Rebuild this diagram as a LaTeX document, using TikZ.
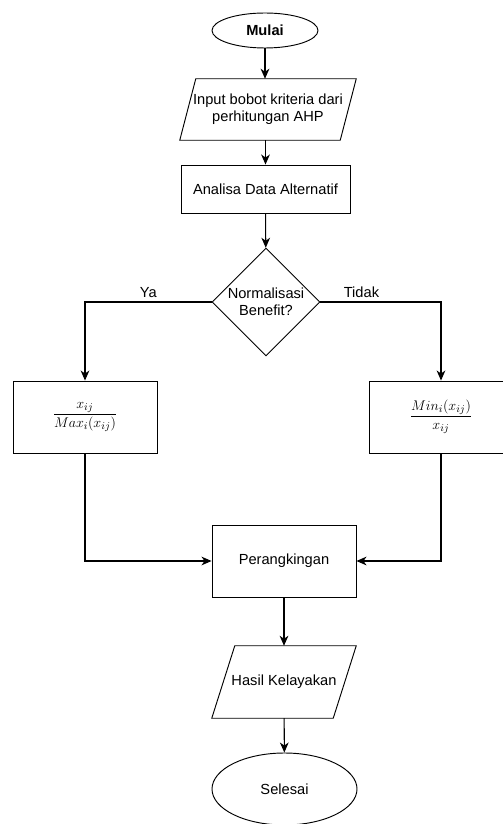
\documentclass[tikz,border=0pt]{standalone}
\usepackage{amsmath,amssymb}
\usepackage{fontspec}
\setmainfont{Liberation Sans}
\usetikzlibrary{shapes.geometric,arrows.meta,positioning,calc}
\tikzstyle{terminal} = [ellipse, draw, line width=0.8pt, inner sep=0pt, font=\fontsize{12.5}{15}\selectfont]
\tikzstyle{iobox} = [rectangle, draw=none, inner sep=0pt, align=center, font=\fontsize{12.5}{14.5}\selectfont]
\tikzstyle{block} = [rectangle, draw, line width=0.8pt, inner sep=0pt, align=center, font=\fontsize{12.5}{15}\selectfont]
\tikzstyle{decision} = [diamond, draw, line width=0.8pt, inner sep=0pt, align=center, font=\fontsize{12.5}{14.5}\selectfont]
\tikzstyle{flow} = [line width=0.9pt, ->]

\begin{document}
\begin{tikzpicture}[x=0.03cm, y=-0.03cm, >={Stealth[length=3mm,width=2.6mm,inset=0.9mm]}]
    \useasboundingbox (0,0) rectangle (502,824);
    \node[terminal, minimum width=3.18cm, minimum height=1.05cm, font=\fontsize{12.5}{15}\selectfont\bfseries] (start) at (265,30.5) {Mulai};
    \node[iobox, minimum width=5.28cm, minimum height=1.83cm] (input) at (268,109.5) {Input bobot kriteria dari\\perhitungan AHP};
    \node[block, minimum width=5.07cm, minimum height=1.44cm] (analisa) at (265.5,189) {Analisa Data Alternatif};
    \node[decision, minimum width=3.24cm, minimum height=3.24cm] (cek) at (266,302) {Normalisasi\\Benefit?};
    \node[block, minimum width=4.32cm, minimum height=2.16cm] (benefit) at (85,417) {$\dfrac{x_{ij}}{Max_i(x_{ij})}$};
    \node[block, minimum width=4.32cm, minimum height=2.16cm] (cost) at (441,417) {$\dfrac{Min_i(x_{ij})}{x_{ij}}$};
    \node[block, minimum width=4.32cm, minimum height=2.16cm] (ranking) at (284,561) {Perangkingan};
    \node[iobox, minimum width=4.32cm, minimum height=2.16cm] (hasil) at (284,682) {Hasil Kelayakan};
    \node[terminal, minimum width=4.35cm, minimum height=2.16cm] (finish) at (284.5,789) {Selesai};

    % parallelogram outlines
    \draw[line width=0.8pt] (input.south west) -- ([xshift=0.48cm]input.north west) -- (input.north east) -- ([xshift=-0.48cm]input.south east) -- cycle;
    \draw[line width=0.8pt] (hasil.south west) -- ([xshift=0.69cm]hasil.north west) -- (hasil.north east) -- ([xshift=-0.69cm]hasil.south east) -- cycle;

    \draw[flow, line width=1.6pt] (start.south) -- (start.south |- input.north);
    \draw[flow] (analisa.north |- input.south) -- (analisa.north);
    \draw[flow] (analisa) -- (cek);
    \draw[flow] (cek.west) -| node[pos=0.25, above, font=\fontsize{12.5}{15}\selectfont] {Ya} (benefit.north);
    \draw[flow] (cek.east) -| node[pos=0.17, above, font=\fontsize{12.5}{15}\selectfont] {Tidak} (cost.north);
    \draw[flow] (benefit.south) |- (ranking.west);
    \draw[flow] (cost.south) |- (ranking.east);
    \draw[flow] (ranking) -- (hasil);
    \draw[flow] (hasil) -- (finish);
\end{tikzpicture}
\end{document}
